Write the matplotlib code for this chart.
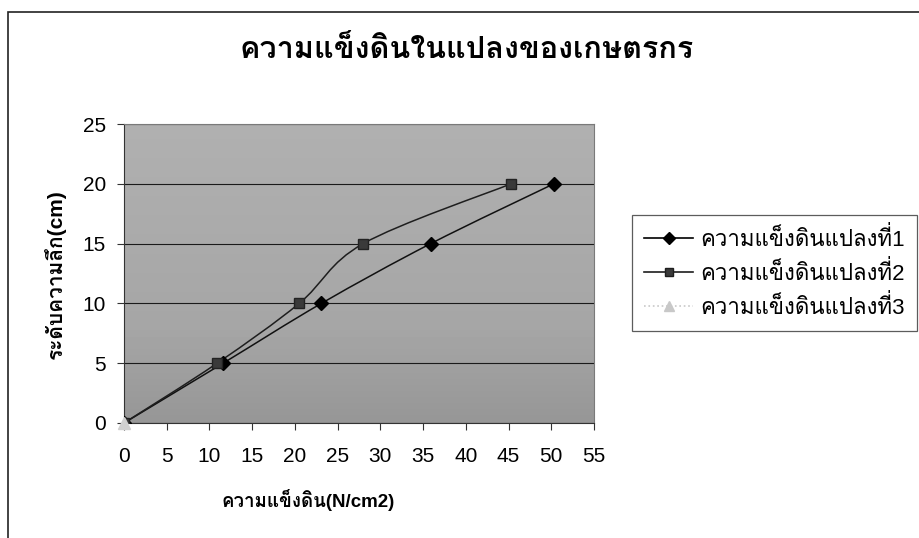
import numpy as np
import matplotlib
matplotlib.use("Agg")
import matplotlib.pyplot as plt
from matplotlib.path import Path
from matplotlib.patches import PathPatch, Rectangle
from matplotlib.lines import Line2D

plt.rcParams['font.family'] = ['Liberation Sans', 'Loma']

title = "ความแข็งดินในแปลงของเกษตรกร"
xlabel = "ความแข็งดิน(N/cm2)"
ylabel = "ระดับความลึก(cm)"
names = ["ความแข็งดินแปลงที่1", "ความแข็งดินแปลงที่2", "ความแข็งดินแปลงที่3"]

# soil hardness (N/cm2) against depth (cm)
plot1_x = [0, 11.6, 23.1, 35.9, 50.3]
plot1_y = [0, 5, 10, 15, 20]
plot2_x = [0, 10.9, 20.5, 28.0, 45.3]
plot2_y = [0, 5, 10, 15, 20]
plot3_x = [0]
plot3_y = [0]

xticks = np.arange(0, 56, 5)
yticks = np.arange(0, 26, 5)


def smooth(ax, x, y, color, lw):
    # excel style smoothed line (catmull-rom as bezier)
    p = np.column_stack([x, y]).astype(float)
    ext = np.vstack([p[0], p, p[-1]])
    verts = [p[0]]
    codes = [Path.MOVETO]
    for i in range(len(p) - 1):
        a, b, c, d = ext[i], ext[i + 1], ext[i + 2], ext[i + 3]
        verts += [b + (c - a) / 6, c - (d - b) / 6, c]
        codes += [Path.CURVE4] * 3
    ax.add_patch(PathPatch(Path(verts, codes), fill=False, edgecolor=color, lw=lw, zorder=3))


fig = plt.figure(figsize=(9.2, 5.38), dpi=100)
fig.patch.set_facecolor('white')

# chart area border (cut off at right and bottom)
fig.add_artist(Rectangle((8 / 920, -0.1), 1.2, 1.1 - 12 / 538, transform=fig.transFigure,
                         fill=False, edgecolor='#222222', lw=1.2))

ax = fig.add_axes([124 / 920, 1 - 423 / 538, 470 / 920, 299 / 538])
ax.set_xlim(0, 55)
ax.set_ylim(0, 25)
# grey plot area, a bit darker towards the bottom
grad = np.linspace(0.69, 0.63, 64).reshape(-1, 1)
grad[44:] -= np.linspace(0, 0.04, 20).reshape(-1, 1)
ax.imshow(grad, cmap='gray', vmin=0, vmax=1, aspect='auto', extent=(0, 1, 0, 1),
          transform=ax.transAxes, zorder=0, interpolation='bilinear')
ax.set_xticks(xticks)
ax.set_yticks(yticks)
ax.tick_params(labelsize=15, length=5, color='#333333')
ax.tick_params(axis='x', pad=12)
ax.tick_params(axis='y', pad=8)
for s in ['top', 'right']:
    ax.spines[s].set_color('#7a7a7a')
for s in ['left', 'bottom']:
    ax.spines[s].set_color('#333333')
ax.yaxis.grid(True, color='#1a1a1a', lw=0.8, zorder=1)

smooth(ax, plot1_x, plot1_y, '#111111', 1.1)
smooth(ax, plot2_x, plot2_y, '#1e1e1e', 1.1)
ax.plot(plot1_x, plot1_y, ls='none', marker='D', ms=7, color='black', zorder=4)
ax.plot(plot2_x, plot2_y, ls='none', marker='s', ms=7, color='#3a3a3a', mec='#222222', zorder=4)
ax.plot(plot3_x, plot3_y, ls='none', marker='^', ms=8, color='#d0d0d0', clip_on=False, zorder=5)

fig.text(467 / 920, 1 - 50 / 538, title, ha='center', va='center', fontsize=22, fontweight='bold')
fig.text(308 / 920, 1 - 500 / 538, xlabel, ha='center', va='center', fontsize=13.5, fontweight='bold')
fig.text(55 / 920, 1 - 274 / 538, ylabel, ha='center', va='center', rotation=90, fontsize=15, fontweight='bold')

handles = [
    Line2D([], [], color='black', marker='D', ms=6, lw=1.2),
    Line2D([], [], color='#1e1e1e', marker='s', ms=6, mfc='#3a3a3a', lw=1.2),
    Line2D([], [], color='#c8c8c8', marker='^', ms=7, ls=':', lw=1.2),
]
leg = fig.legend(handles, names, loc='upper left', bbox_to_anchor=(632 / 920, 1 - 215 / 538),
                 fontsize=16, frameon=True, fancybox=False, edgecolor='#333333',
                 handlelength=2.2, handletextpad=0.3, labelspacing=0.45, borderpad=0.55,
                 borderaxespad=0)
leg.get_frame().set_linewidth(0.9)

fig.savefig("out.png", dpi=100)
